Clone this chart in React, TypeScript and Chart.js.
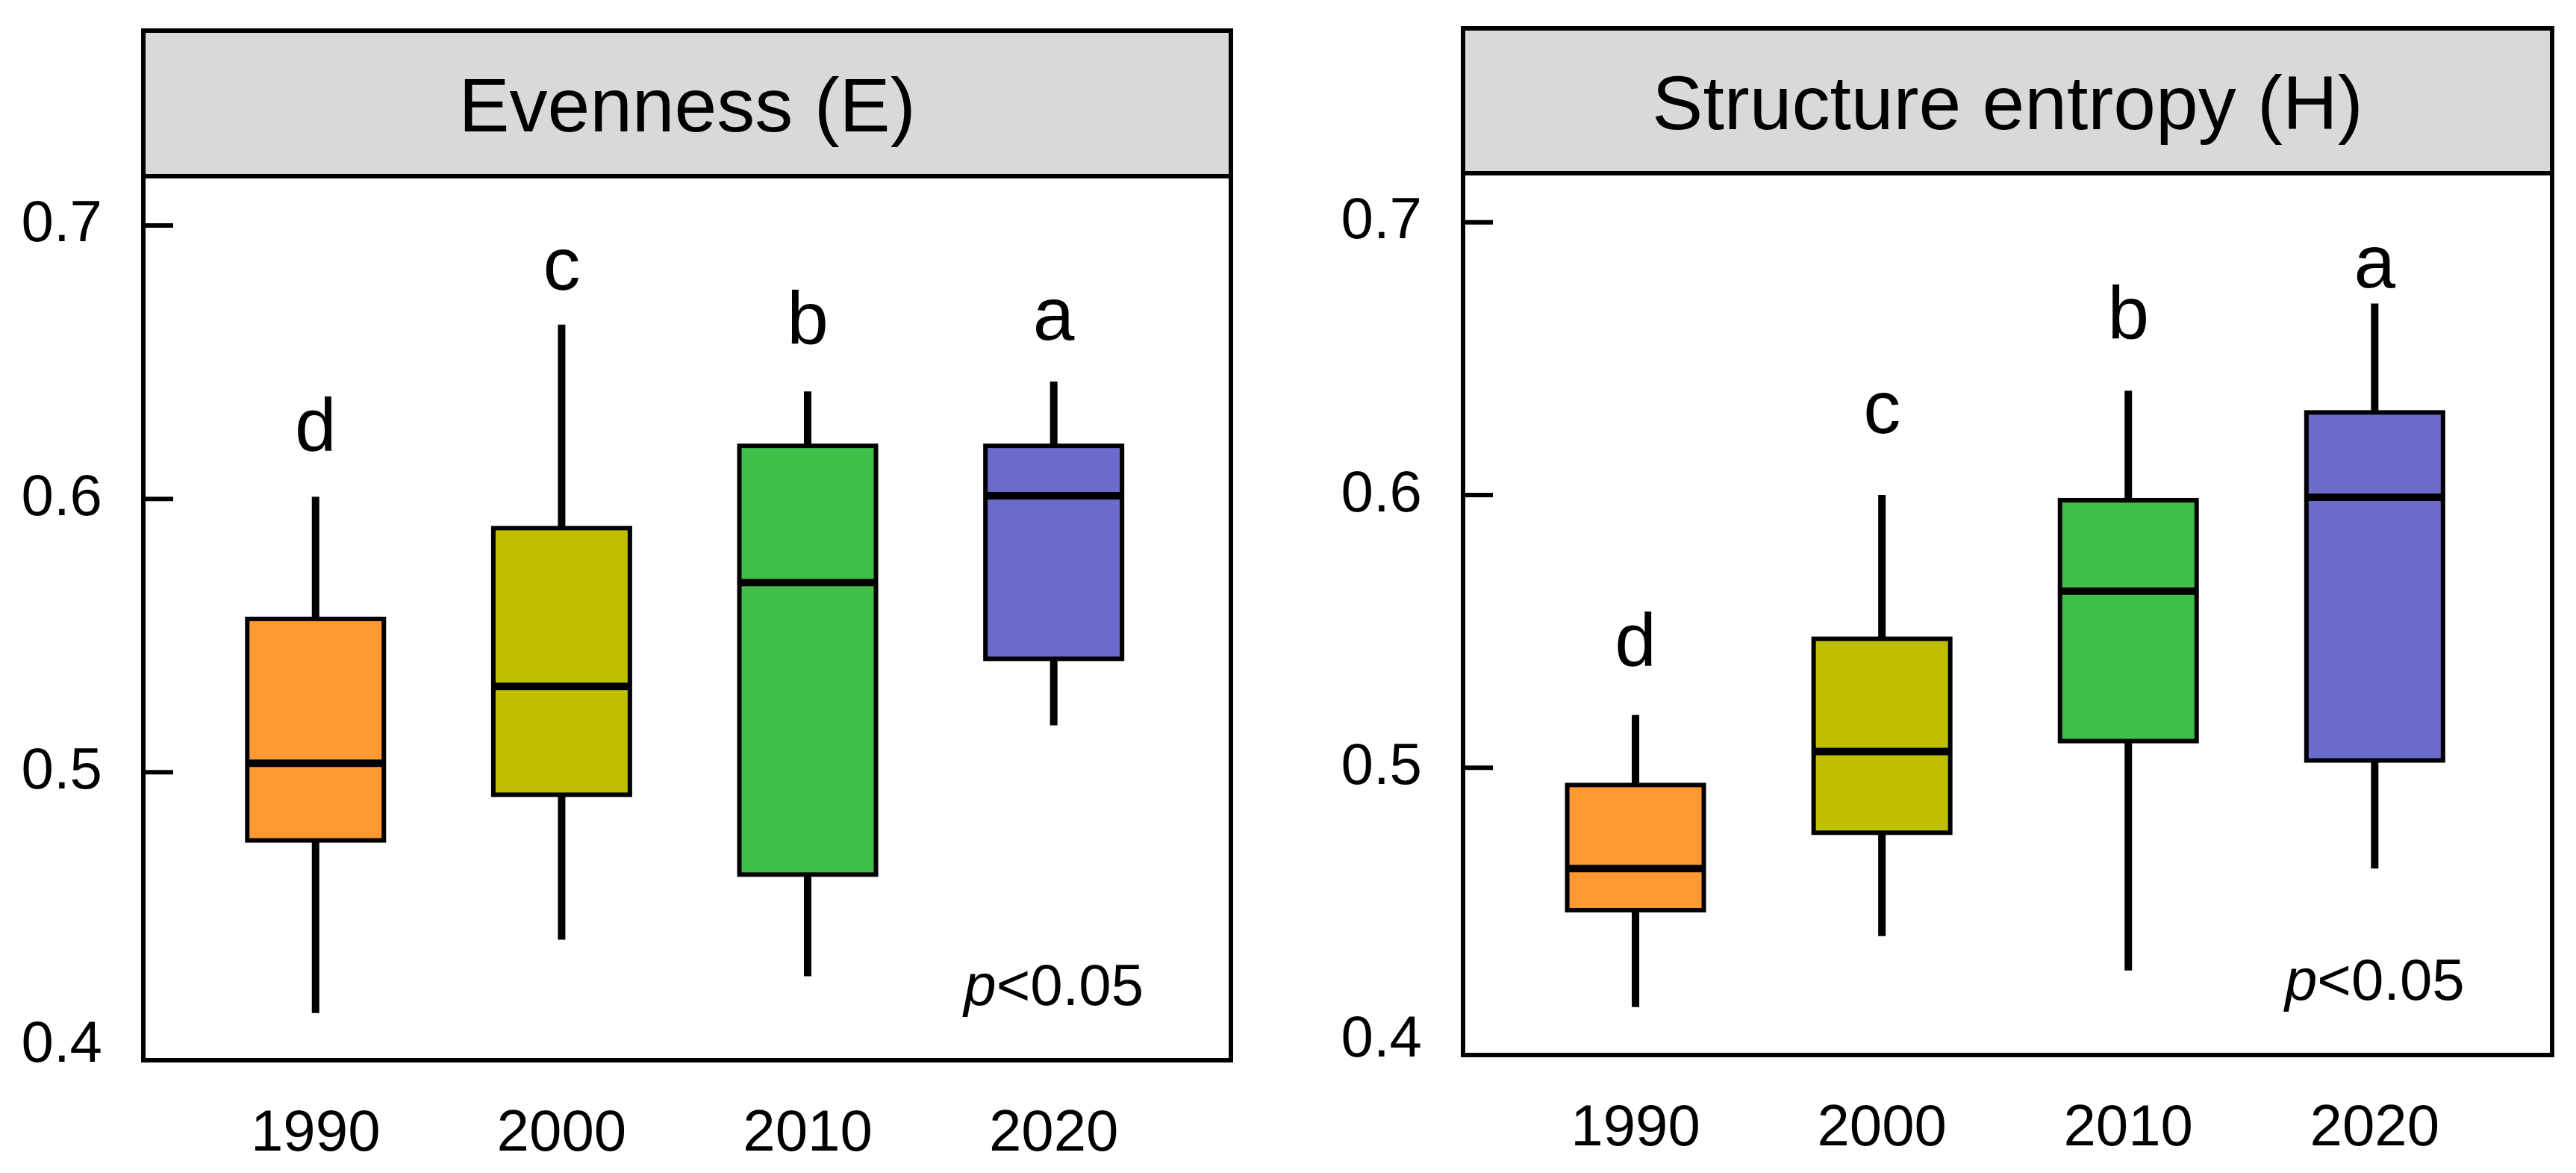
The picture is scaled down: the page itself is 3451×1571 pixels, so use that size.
import React, { useEffect, useRef } from "react";
import { Chart, registerables } from "chart.js";

Chart.register(...registerables);

// ---------- data ----------
const YEARS = ["1990", "2000", "2010", "2020"];
const BOX_COLORS = ["#FF9933", "#BFBF00", "#40BF4A", "#6B6BCC"];
const Y_TICKS = [0.4, 0.5, 0.6, 0.7];
const INNER_TICK_MARKS = [0.5, 0.6, 0.7];
const Y_MIN = 0.3947;
const Y_MAX = 0.718;
const P_LABEL_ITALIC = "p";
const P_LABEL_REST = "<0.05";
const P_LABEL_Y = 0.415;

const E_TITLE = "Evenness (E)";
const E_MIN = [0.412, 0.4388, 0.4254, 0.5172];
const E_Q1 = [0.4751, 0.4918, 0.4626, 0.5415];
const E_MED = [0.5033, 0.5314, 0.5694, 0.6011];
const E_Q3 = [0.5561, 0.5893, 0.6194, 0.6194];
const E_MAX = [0.6008, 0.6637, 0.6393, 0.6429];
const E_LETTERS = ["d", "c", "b", "a"];
const E_LETTER_Y = [0.6175, 0.6765, 0.6566, 0.6582];

const H_TITLE = "Structure entropy (H)";
const H_MIN = [0.4123, 0.4383, 0.4257, 0.4631];
const H_Q1 = [0.4478, 0.4762, 0.5098, 0.5027];
const H_MED = [0.4631, 0.506, 0.5648, 0.5992];
const H_Q3 = [0.4937, 0.5473, 0.5981, 0.6303];
const H_MAX = [0.5194, 0.6, 0.6383, 0.6702];
const H_LETTERS = ["d", "c", "b", "a"];
const H_LETTER_Y = [0.5374, 0.6227, 0.6571, 0.6762];

// ---------- style ----------
const FONT = '"Liberation Sans", Arial, sans-serif';
const TITLE_SIZE = 102;
const LETTER_SIZE = 100;
const TICK_SIZE = 78;
const BOX_WIDTH = 183;

Chart.defaults.font.family = FONT;

type Geom = {
  canvasX: number;
  width: number;
  height: number;
  stripTop: number;
  top: number;
  bottom: number;
  left: number;
  right: number;
};

type PanelProps = {
  title: string;
  mins: number[];
  q1: number[];
  med: number[];
  q3: number[];
  maxs: number[];
  letters: string[];
  letterY: number[];
  geom: Geom;
};

function BoxPanel(props: PanelProps) {
  const ref = useRef<HTMLCanvasElement>(null);

  useEffect(() => {
    const g = props.geom;
    const canvas = ref.current;
    if (!canvas) return;

    const decor = {
      id: "boxDecor",
      beforeDatasetsDraw(chart: any) {
        const { ctx, chartArea: a } = chart;
        ctx.save();
        ctx.fillStyle = "#D9D9D9";
        ctx.fillRect(a.left, g.stripTop, a.right - a.left, a.top - g.stripTop);
        ctx.fillStyle = "#000";
        ctx.font = `${TITLE_SIZE}px ${FONT}`;
        ctx.textAlign = "center";
        ctx.textBaseline = "alphabetic";
        ctx.fillText(props.title, (a.left + a.right) / 2, g.stripTop + 135);
        ctx.restore();
      },
      afterDatasetsDraw(chart: any) {
        const { ctx, chartArea: a } = chart;
        const xs = chart.scales.x;
        const ys = chart.scales.y;
        ctx.save();
        ctx.strokeStyle = "#000";
        ctx.lineCap = "butt";
        ctx.lineJoin = "miter";
        for (let i = 0; i < YEARS.length; i++) {
          const x = xs.getPixelForValue(i + 1);
          const yMax = ys.getPixelForValue(props.maxs[i]);
          const yQ3 = ys.getPixelForValue(props.q3[i]);
          const yMed = ys.getPixelForValue(props.med[i]);
          const yQ1 = ys.getPixelForValue(props.q1[i]);
          const yMin = ys.getPixelForValue(props.mins[i]);
          // whiskers
          ctx.lineWidth = 10;
          ctx.beginPath();
          ctx.moveTo(x, yMax);
          ctx.lineTo(x, yQ3);
          ctx.moveTo(x, yQ1);
          ctx.lineTo(x, yMin);
          ctx.stroke();
          // box outline
          ctx.lineWidth = 6;
          ctx.strokeRect(x - BOX_WIDTH / 2, yQ3, BOX_WIDTH, yQ1 - yQ3);
          // median
          ctx.lineWidth = 10;
          ctx.beginPath();
          ctx.moveTo(x - BOX_WIDTH / 2, yMed);
          ctx.lineTo(x + BOX_WIDTH / 2, yMed);
          ctx.stroke();
          // significance letters
          ctx.fillStyle = "#000";
          ctx.font = `${LETTER_SIZE}px ${FONT}`;
          ctx.textAlign = "center";
          ctx.textBaseline = "alphabetic";
          ctx.fillText(props.letters[i], x, ys.getPixelForValue(props.letterY[i]));
        }
        // p<0.05
        const px = xs.getPixelForValue(YEARS.length);
        const py = ys.getPixelForValue(P_LABEL_Y);
        ctx.textAlign = "left";
        ctx.font = `italic ${TICK_SIZE}px ${FONT}`;
        const w1 = ctx.measureText(P_LABEL_ITALIC).width;
        ctx.font = `${TICK_SIZE}px ${FONT}`;
        const w2 = ctx.measureText(P_LABEL_REST).width;
        const sx = px - (w1 + w2) / 2;
        ctx.font = `italic ${TICK_SIZE}px ${FONT}`;
        ctx.fillText(P_LABEL_ITALIC, sx, py);
        ctx.font = `${TICK_SIZE}px ${FONT}`;
        ctx.fillText(P_LABEL_REST, sx + w1, py);

        // inner tick marks
        ctx.lineWidth = 6;
        ctx.beginPath();
        for (const v of INNER_TICK_MARKS) {
          const y = ys.getPixelForValue(v);
          ctx.moveTo(a.left, y);
          ctx.lineTo(a.left + 40, y);
        }
        ctx.stroke();

        // frame
        ctx.lineWidth = 6;
        ctx.strokeRect(a.left, g.stripTop, a.right - a.left, a.bottom - g.stripTop);
        ctx.beginPath();
        ctx.moveTo(a.left, a.top);
        ctx.lineTo(a.right, a.top);
        ctx.stroke();
        ctx.restore();
      },
    };

    const chart = new Chart(canvas, {
      type: "bar",
      data: {
        datasets: [
          {
            data: YEARS.map((_, i) => ({ x: i + 1, y: [props.q1[i], props.q3[i]] })) as any,
            backgroundColor: BOX_COLORS,
            borderWidth: 0,
            barThickness: BOX_WIDTH,
            grouped: false,
          } as any,
        ],
      },
      options: {
        animation: false,
        responsive: false,
        maintainAspectRatio: false,
        events: [],
        layout: {
          padding: { top: g.top, right: g.width - g.right, bottom: 0, left: 0 },
        },
        plugins: {
          legend: { display: false },
          tooltip: { enabled: false },
          title: { display: false },
        },
        scales: {
          x: {
            type: "linear",
            min: 0.3,
            max: 4.72,
            offset: false,
            grid: { display: false, drawTicks: false, offset: false },
            border: { display: false },
            afterBuildTicks: (scale: any) => {
              scale.ticks = YEARS.map((_, i) => ({ value: i + 1 }));
            },
            afterFit: (scale: any) => {
              scale.height = g.height - g.bottom;
            },
            ticks: {
              color: "#000",
              font: { size: TICK_SIZE, family: FONT },
              padding: 53,
              maxRotation: 0,
              autoSkip: false,
              callback: (v: any) => YEARS[Math.round(Number(v)) - 1] ?? "",
            },
          },
          y: {
            type: "linear",
            min: Y_MIN,
            max: Y_MAX,
            grid: { display: false, drawTicks: false },
            border: { display: false },
            afterBuildTicks: (scale: any) => {
              scale.ticks = Y_TICKS.map((v) => ({ value: v }));
            },
            afterFit: (scale: any) => {
              scale.width = g.left;
            },
            ticks: {
              color: "#000",
              font: { size: TICK_SIZE, family: FONT },
              padding: 55,
              callback: (v: any) => Number(v).toFixed(1),
            },
          },
        },
      },
      plugins: [decor],
    });

    return () => chart.destroy();
  }, []);

  const g = props.geom;
  return (
    <canvas
      ref={ref}
      width={g.width}
      height={g.height}
      style={{ position: "absolute", left: g.canvasX, top: 0, width: g.width, height: g.height }}
    />
  );
}

const LEFT_GEOM: Geom = {
  canvasX: 0,
  width: 1725,
  height: 1571,
  stripTop: 41,
  top: 236,
  bottom: 1420,
  left: 192,
  right: 1649,
};

const RIGHT_GEOM: Geom = {
  canvasX: 1725,
  width: 1726,
  height: 1571,
  stripTop: 38,
  top: 232,
  bottom: 1413,
  left: 235,
  right: 1694,
};

export default function App() {
  return (
    <div
      style={{
        position: "absolute",
        left: 0,
        top: 0,
        width: 3451,
        height: 1571,
        background: "#fff",
        overflow: "hidden",
      }}
    >
      <BoxPanel
        title={E_TITLE}
        mins={E_MIN}
        q1={E_Q1}
        med={E_MED}
        q3={E_Q3}
        maxs={E_MAX}
        letters={E_LETTERS}
        letterY={E_LETTER_Y}
        geom={LEFT_GEOM}
      />
      <BoxPanel
        title={H_TITLE}
        mins={H_MIN}
        q1={H_Q1}
        med={H_MED}
        q3={H_Q3}
        maxs={H_MAX}
        letters={H_LETTERS}
        letterY={H_LETTER_Y}
        geom={RIGHT_GEOM}
      />
    </div>
  );
}
